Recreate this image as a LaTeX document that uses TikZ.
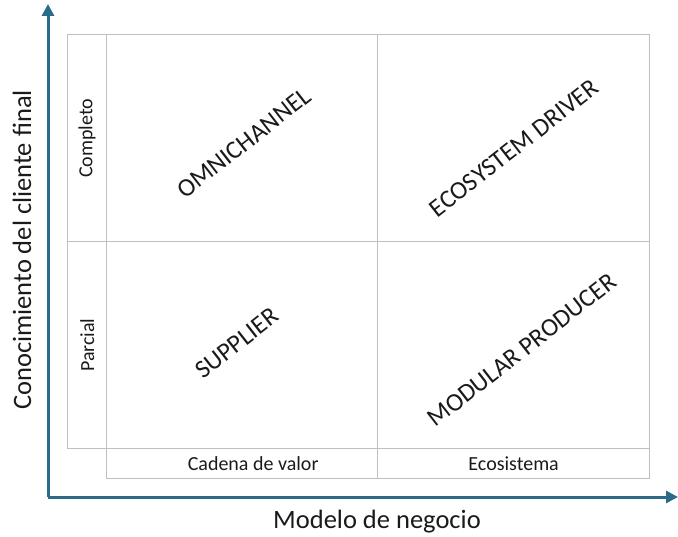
\documentclass[tikz,border=0pt]{standalone}
\usepackage{fontspec}
\setmainfont{Carlito}
\usetikzlibrary{arrows.meta}
\definecolor{axisblue}{HTML}{2C6A8A}
\definecolor{gridgray}{HTML}{BFBFBF}
\definecolor{txtblack}{HTML}{1A1A1A}

\begin{document}
\begin{tikzpicture}[x=1pt,y=-1pt,
  cell/.style={draw=gridgray,line width=1.3pt,anchor=north west,inner sep=0pt,
               minimum width=#1},
  cell/.default=272pt,
  tallcell/.style={cell=#1,minimum height=207pt},
  lowcell/.style={cell=#1,minimum height=30pt},
  quad/.style={font=\fontsize{25.5}{30}\selectfont,text=txtblack,rotate=38},
  side/.style={font=\fontsize{20}{24}\selectfont,text=txtblack},
  axlbl/.style={font=\fontsize{26.5}{31}\selectfont,text=txtblack},
  axis/.style={axisblue,line width=3pt,-{Triangle[length=12pt,width=12pt]}}]

  \useasboundingbox (0,0) rectangle (678,537);

  % label column and quadrants
  \node[tallcell=39pt] (compcell) at (67,34) {};
  \node[tallcell=39pt] (parccell) at (67,241) {};
  \node[tallcell=271pt] (omnicell) at (106,34) {};
  \node[tallcell=272pt] (ecocell) at (377,34) {};
  \node[tallcell=271pt] (suppcell) at (106,241) {};
  \node[tallcell=272pt] (modcell) at (377,241) {};
  \node[lowcell=271pt] (cadcell) at (106,448) {};
  \node[lowcell=272pt] (ecoscell) at (377,448) {};

  \node[side,rotate=90] (completo) at (compcell.center) {Completo};
  \node[side,rotate=90] (parcial) at (parccell.center) {Parcial};
  \node[side] (cadena) at ([xshift=11pt]cadcell.center) {Cadena de valor};
  \node[side] (ecosis) at (ecoscell.center) {Ecosistema};

  \node[quad] (omni) at (244,143) {OMNICHANNEL};
  \node[quad] (ecodrv) at (514,148) {ECOSYSTEM DRIVER};
  \node[quad] (supplier) at (237,343) {SUPPLIER};
  \node[quad] (modprod) at (522,350) {MODULAR PRODUCER};

  % axes
  \coordinate (origin) at (48,497);
  \coordinate (ytop) at (48,4);
  \coordinate (xend) at (678,497);
  \draw[axis] (origin) -- (ytop);
  \draw[axis] (origin) -- (xend);

  \node[axlbl,rotate=90] (ylabel) at (22,250) {Conocimiento del cliente final};
  \node[axlbl] (xlabel) at (377,522) {Modelo de negocio};
\end{tikzpicture}
\end{document}
